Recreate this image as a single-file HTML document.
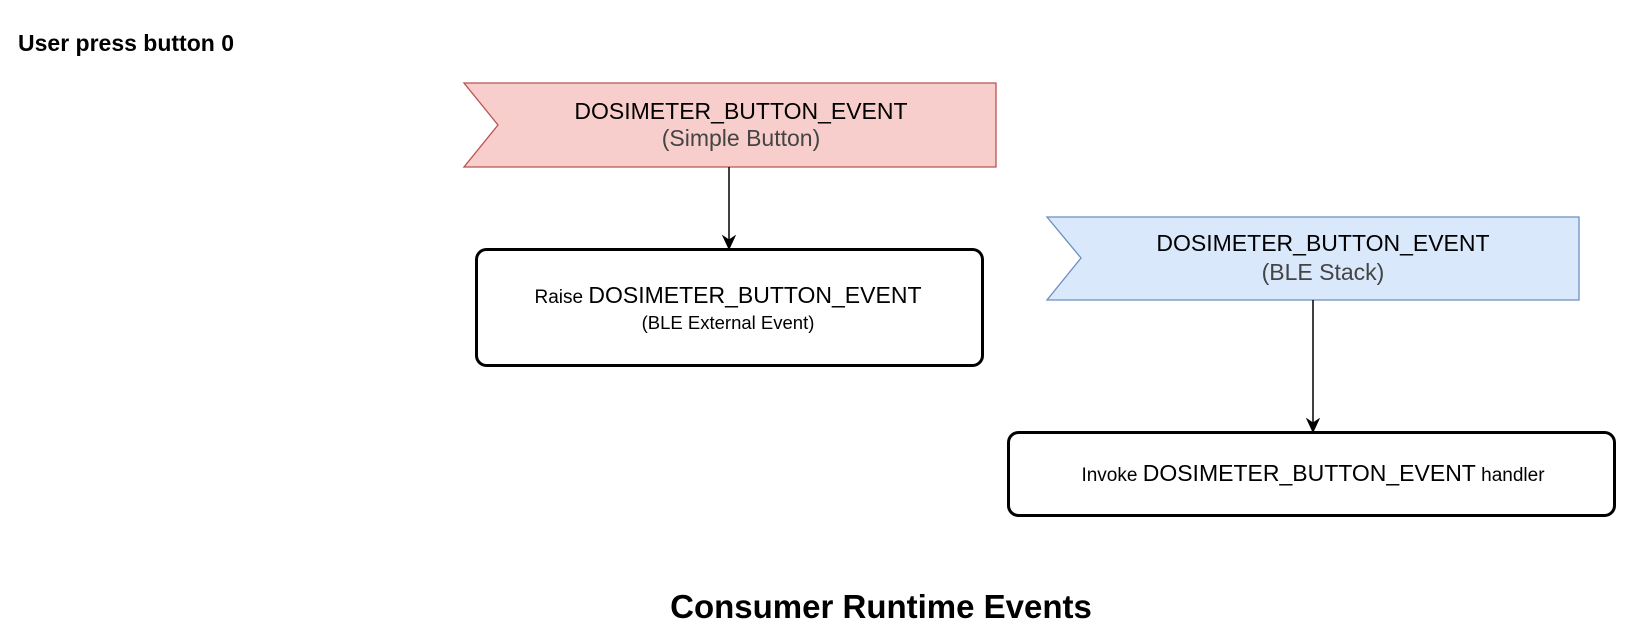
<!DOCTYPE html>
<html><head><style>
body{margin:0;width:1647px;height:642px;background:#fff;overflow:hidden}
svg{display:block}
text{font-family:"Liberation Sans",Arial,sans-serif}
</style></head><body>
<svg width="1647" height="642" viewBox="0 0 1647 642">
<text x="18" y="51" font-size="23" font-weight="bold" fill="#000">User press button 0</text>
<polygon points="464,83 996,83 996,167 464,167 498,125" fill="#f8cecc" stroke="#b85450" stroke-width="1.3"/>
<text x="741" y="119" font-size="23" text-anchor="middle" fill="#000">DOSIMETER_BUTTON_EVENT</text>
<text x="741" y="146" font-size="23" text-anchor="middle" fill="#444">(Simple Button)</text>
<line x1="729" y1="167" x2="729" y2="242" stroke="#000" stroke-width="1.5"/>
<polygon points="723,236 729,249 735,236 729,240" fill="#000" stroke="#000"/>
<rect x="476.5" y="249.5" width="506" height="116" rx="10" fill="#fff" stroke="#000" stroke-width="3"/>
<text x="728" y="303" text-anchor="middle" fill="#000"><tspan font-size="19">Raise </tspan><tspan font-size="23">DOSIMETER_BUTTON_EVENT</tspan></text>
<text x="728" y="329" font-size="18.5" text-anchor="middle" fill="#000">(BLE External Event)</text>
<polygon points="1047,217 1579,217 1579,300 1047,300 1081,258" fill="#dae8fc" stroke="#6c8ebf" stroke-width="1.3"/>
<text x="1323" y="251" font-size="23" text-anchor="middle" fill="#000">DOSIMETER_BUTTON_EVENT</text>
<text x="1323" y="280" font-size="23" text-anchor="middle" fill="#444">(BLE Stack)</text>
<line x1="1313" y1="300" x2="1313" y2="425" stroke="#000" stroke-width="1.5"/>
<polygon points="1307,419 1313,432 1319,419 1313,423" fill="#000" stroke="#000"/>
<rect x="1008.5" y="432.5" width="606" height="83" rx="10" fill="#fff" stroke="#000" stroke-width="3"/>
<text x="1313" y="481" text-anchor="middle" fill="#000"><tspan font-size="19">Invoke </tspan><tspan font-size="23">DOSIMETER_BUTTON_EVENT</tspan><tspan font-size="19"> handler</tspan></text>
<text x="881" y="618" font-size="33" font-weight="bold" text-anchor="middle" fill="#000">Consumer Runtime Events</text>
</svg>
</body></html>
